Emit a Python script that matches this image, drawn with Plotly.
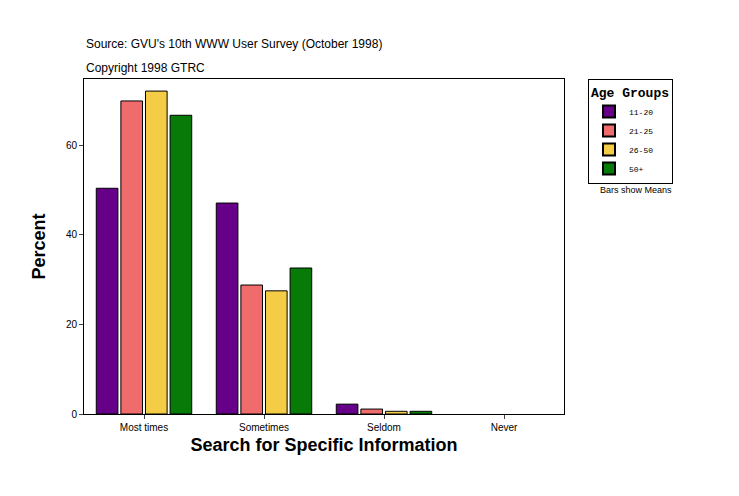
import plotly.graph_objects as go

categories = ["Most times", "Sometimes", "Seldom", "Never"]
groups = ["11-20", "21-25", "26-50", "50+"]
colors = ["#660088", "#f06b6b", "#f5cc45", "#087a08"]
values = [
    [50.4, 47.1, 2.2, None],
    [69.9, 28.8, 1.1, None],
    [72.1, 27.5, 0.6, None],
    [66.7, 32.6, 0.6, None],
]

fig = go.Figure()
for name, col, vals in zip(groups, colors, values):
    fig.add_trace(go.Bar(x=categories, y=vals, name=name,
                         marker=dict(color=col, line=dict(color="black", width=1))))

fig.update_layout(
    width=739, height=496, barmode="group", bargap=0.18, bargroupgap=0.12,
    plot_bgcolor="white", paper_bgcolor="white",
    margin=dict(l=76, r=183, t=71, b=90, autoexpand=False),
    font=dict(family="Arial", size=10, color="black"),
    legend=dict(x=1.05, y=1.0, xanchor="left", yanchor="top",
                bordercolor="black", borderwidth=1,
                title=dict(text="<b>Age Groups</b>", font=dict(size=13)),
                font=dict(size=8, family="Courier New"),
                tracegroupgap=0, itemwidth=30, itemsizing="constant"),
)
fig.add_annotation(text="Source: GVU's 10th WWW User Survey (October 1998)", x=0, y=1.13,
                   xref="paper", yref="paper", showarrow=False, xanchor="left", font=dict(size=12))
fig.add_annotation(text="Copyright 1998 GTRC", x=0, y=1.06, xref="paper", yref="paper",
                   showarrow=False, xanchor="left", font=dict(size=12))
fig.add_annotation(text="Bars show Means", x=1.07, y=0.69, xref="paper", yref="paper",
                   showarrow=False, xanchor="left", font=dict(size=9))

fig.update_xaxes(title=dict(text="<b>Search for Specific Information</b>", font=dict(size=18), standoff=6),
                 showline=True, linecolor="black", mirror=True, ticks="outside", ticklen=4)
fig.update_yaxes(title=dict(text="<b>Percent</b>", font=dict(size=18)), range=[0, 74.8],
                 tickvals=[0, 20, 40, 60], showgrid=False, zeroline=False,
                 showline=True, linecolor="black", mirror=True, ticks="outside", ticklen=4)

fig.write_html("out.html")
